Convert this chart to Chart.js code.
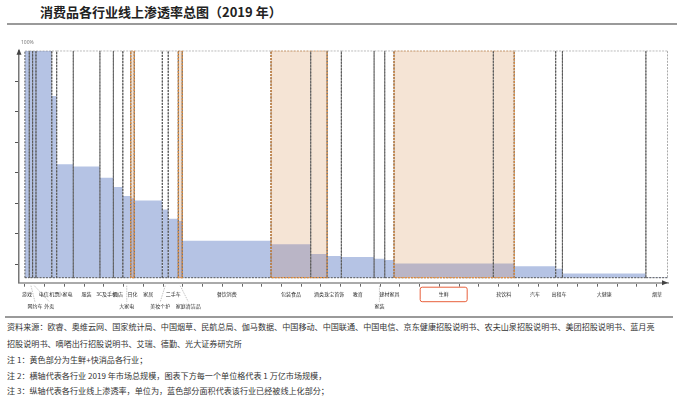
<!DOCTYPE html>
<html>
<head>
<meta charset="utf-8">
<script src="https://cdn.jsdelivr.net/npm/chart.js@4.4.0/dist/chart.umd.min.js"></script>
<style>
  body { margin: 0; width: 677px; height: 400px; position: relative; background: #fff; overflow: hidden;
         font-family: "Noto Sans CJK SC", "Noto Sans", sans-serif; color: #333; }
  #title { position: absolute; left: 40px; top: 2px; font-size: 13px; font-weight: bold; color: #222; }
  .rule { position: absolute; height: 2px; background: #9a9a9a; }
  .note { position: absolute; left: 7px; font-size: 8.1px; white-space: nowrap; }
  canvas { position: absolute; left: 0; top: 0; }
</style>
</head>
<body>
<div id="title">消费品各行业线上渗透率总图（2019 年）</div>
<div class="rule" style="left:7px; width:670px; top:23px;"></div>
<canvas id="myChart" width="677" height="316"></canvas>
<div class="rule" style="left:5px; width:668px; top:316px;"></div>
<div class="note" style="top:321px;">资料来源：欧睿、奥维云网、国家统计局、中国烟草、民航总局、伽马数据、中国移动、中国联通、中国电信、京东健康招股说明书、农夫山泉招股说明书、美团招股说明书、蓝月亮</div>
<div class="note" style="top:338px;">招股说明书、嘀嗒出行招股说明书、艾瑞、德勤、光大证券研究所</div>
<div class="note" style="top:354px;">注 1：黄色部分为生鲜+快消品各行业；</div>
<div class="note" style="top:370px;">注 2：横轴代表各行业 2019 年市场总规模，图表下方每一个单位格代表 1 万亿市场规模，</div>
<div class="note" style="top:385px;">注 3：纵轴代表各行业线上渗透率，单位为，蓝色部分面积代表该行业已经被线上化部分；</div>
<script>
// 行业、市场规模(万亿)、线上渗透率(%)
const categories = ['游戏', '网约车', '外卖', '电信', '机票', '小家电', '服装', '3C及手机', '酒店', '大家电',
    '日化', '家居', '美妆个护', '二手车', '家庭清洁品', '餐饮消费', '包装食品', '酒类', '珠宝首饰', '教育',
    '家装', '建材家具', '生鲜', '软饮料', '汽车', '出租车', '大健康', '烟草'];
const marketSize = [0.22, 0.17, 0.17, 0.80, 0.25, 0.84, 1.35, 0.68, 0.48, 0.40,
    0.18, 1.42, 0.30, 0.51, 0.20, 4.50, 2.01, 0.83, 0.72, 1.66,
    0.54, 0.47, 5.03, 1.06, 2.10, 0.34, 4.23, 1.12];
const onlineRate = [100, 100, 100, 100, 80, 50, 49, 44, 40, 36,
    35, 34, 30, 26, 25, 16.3, 14.7, 10.4, 9.6, 9.1,
    8.4, 7.8, 6.3, 6.3, 5.1, 4.0, 1.9, 0.2];
// 1 = 生鲜+快消品
const fmcg = [0, 0, 0, 0, 0, 0, 0, 0, 0, 0,
    1, 0, 0, 0, 1, 0, 1, 1, 0, 0,
    0, 0, 1, 1, 0, 0, 0, 0];
// 标签所在行
const labelRow = [1, 2, 2, 1, 1, 1, 1, 1, 1, 2,
    1, 1, 2, 1, 2, 1, 1, 1, 1, 1,
    2, 1, 1, 1, 1, 1, 1, 1];
const yTickMarks = [5.9, 19.4, 32.8, 46.3, 59.7, 73.1, 86.6];
const xUnits = 32;

const blue = '#b5c3e4';
const overlap = '#bab5c6';
const peach = '#f5e4d5';
const orange = '#e8913f';
const grey = '#555';
// 拥挤处标签的引线偏移(px)
const labelNudge = { '网约车': 4, '外卖': 15, '美妆个护': -5, '家庭清洁品': 8 };

let starts = [];
let centers = [];
let acc = 0;
for (let i = 0; i < marketSize.length; i++) {
    starts.push(acc);
    centers.push(acc + marketSize[i] / 2);
    acc += marketSize[i];
}
const total = acc;

function box(s, e, top) {
    return [{x: s, y: 0}, {x: s, y: top}, {x: e, y: top}, {x: e, y: 0}];
}

let datasets = [];
for (let i = 0; i < categories.length; i++) {
    let s = starts[i];
    let e = s + marketSize[i];
    if (fmcg[i]) {
        datasets.push({ data: box(s, e, 100), backgroundColor: peach, borderWidth: 0, fill: 'origin', order: 4 });
    }
    datasets.push({
        data: box(s, e, onlineRate[i]),
        backgroundColor: fmcg[i] ? overlap : blue, borderWidth: 0, fill: 'origin', order: 3
    });
    datasets.push({
        data: box(s, e, 100).concat([{x: s, y: 0}]),
        borderColor: grey, borderWidth: 1, borderDash: [2, 1.2], fill: false, order: 2
    });
}
// 快消品连续区块的橙色边框
for (let i = 0; i < categories.length; i++) {
    if (!fmcg[i] || (i > 0 && fmcg[i - 1])) continue;
    let j = i;
    while (j + 1 < categories.length && fmcg[j + 1]) j++;
    let s = starts[i];
    let e = starts[j] + marketSize[j];
    datasets.push({
        data: box(s, e, 100).concat([{x: s, y: 0}]),
        borderColor: orange, borderWidth: 1.2, borderDash: [2, 1.2], fill: false, order: 1
    });
}

const extras = {
    id: 'extras',
    afterDraw(chart) {
        const {ctx, chartArea, scales} = chart;
        ctx.save();
        ctx.fillStyle = '#444';
        ctx.beginPath();
        ctx.moveTo(chartArea.left, chartArea.top - 2);
        ctx.lineTo(chartArea.left - 2.5, chartArea.top + 4);
        ctx.lineTo(chartArea.left + 2.5, chartArea.top + 4);
        ctx.fill();
        let y0 = chartArea.bottom;
        ctx.beginPath();
        ctx.moveTo(chartArea.right, y0);
        ctx.lineTo(chartArea.right - 6, y0 - 2.5);
        ctx.lineTo(chartArea.right - 6, y0 + 2.5);
        ctx.fill();
        ctx.font = '5px "Noto Sans"';
        ctx.fillStyle = '#777';
        ctx.textAlign = 'left';
        ctx.textBaseline = 'middle';
        ctx.fillText('100%', chartArea.left + 2, chartArea.top - 8);

        // 行业标签
        ctx.font = '5px "Noto Sans CJK SC"';
        ctx.fillStyle = '#333';
        ctx.textAlign = 'center';
        for (let i = 0; i < categories.length; i++) {
            let cx = scales.x.getPixelForValue(centers[i]);
            let tx = cx + (labelNudge[categories[i]] || 0);
            if (labelRow[i] == 2) {
                ctx.strokeStyle = '#aaa';
                ctx.lineWidth = 0.7;
                ctx.setLineDash([1.5, 1]);
                ctx.beginPath();
                ctx.moveTo(cx, y0 + 3);
                ctx.lineTo(tx, y0 + 19);
                ctx.stroke();
                ctx.setLineDash([]);
            }
            ctx.fillText(categories[i], tx, y0 + (labelRow[i] == 2 ? 23 : 11));
        }

        // 生鲜 标签框
        let k = categories.indexOf('生鲜');
        let kx = scales.x.getPixelForValue(centers[k]);
        ctx.strokeStyle = '#e8603c';
        ctx.lineWidth = 1;
        ctx.beginPath();
        ctx.roundRect(kx - 23.5, y0 + 4.5, 47, 14.5, 2);
        ctx.stroke();
        ctx.restore();
    }
};

const ctx = document.getElementById('myChart');
const myChart = new Chart(ctx, {
    type: 'line',
    data: { datasets: datasets },
    plugins: [extras],
    options: {
        responsive: false,
        animation: false,
        layout: { padding: { top: 50.7, right: 9, left: 0, bottom: 0 } },
        elements: { point: { radius: 0 }, line: { tension: 0 } },
        plugins: { legend: { display: false }, tooltip: { enabled: false } },
        scales: {
            x: {
                type: 'linear', min: -0.3, max: total,
                afterBuildTicks: (s) => {
                    let t = [];
                    for (let v = 0; v <= xUnits; v++) t.push({value: v});
                    s.ticks = t;
                },
                afterFit: (s) => { s.height = 33.3; },
                ticks: { display: false },
                grid: { drawOnChartArea: false, tickLength: 4, color: '#666' },
                border: { color: '#aaa', width: 2 }
            },
            y: {
                min: -2.2, max: 100,
                afterBuildTicks: (s) => { s.ticks = yTickMarks.map(v => ({value: v})); },
                afterFit: (s) => { s.width = 19; },
                ticks: { display: false },
                grid: { drawOnChartArea: false, tickLength: 4, color: '#555' },
                border: { color: '#777', width: 1.5 }
            }
        }
    }
});
</script>
</body>
</html>
